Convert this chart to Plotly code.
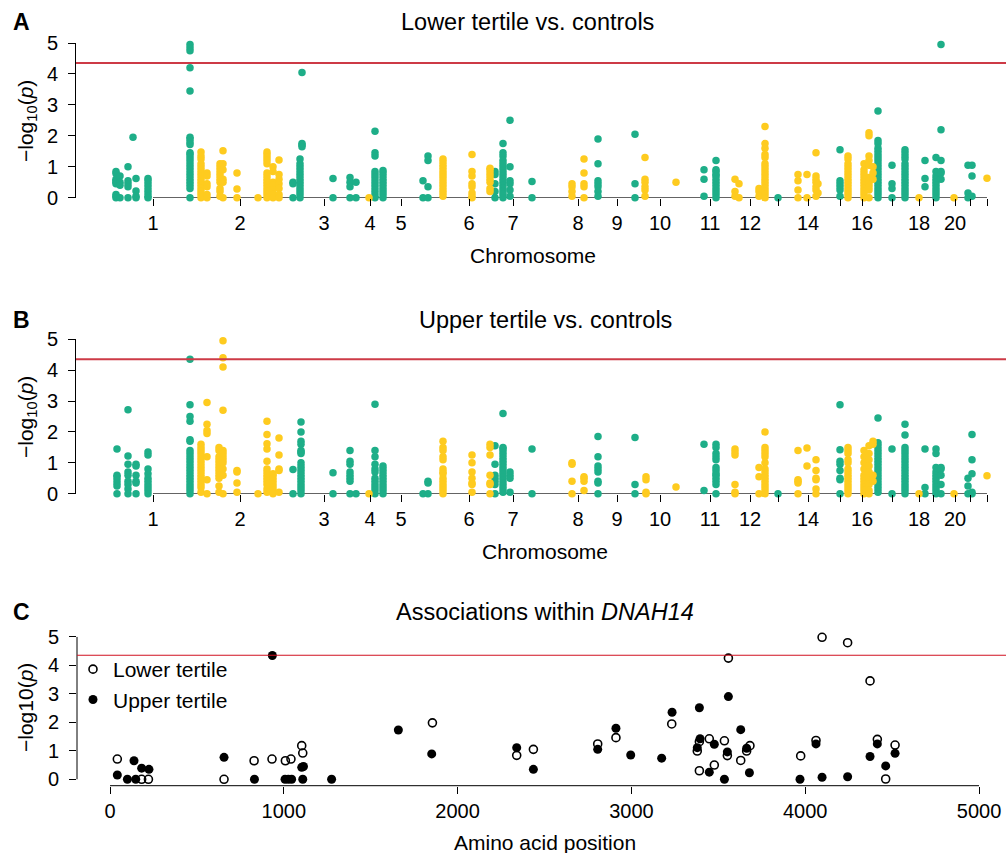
import plotly.graph_objects as go

# ---------------- data ----------------
threshold = 4.35

# genome axis: chromosome tick positions (cumulative index) and labels
chrom_tick_pos = [153, 240, 324, 370, 401, 469, 513, 578, 617, 660, 710, 750,
                  778, 808, 840, 862, 892, 919, 933, 955, 970, 987]
chrom_tick_lab = ["1", "2", "3", "4", "5", "6", "7", "8", "9", "10", "11", "12",
                  "", "14", "", "16", "", "18", "", "20", "", ""]

# Panel A: lower tertile vs controls  (position, colour group, -log10 p values)
a_pos = [116, 120, 128, 133, 136, 148, 190, 201, 207, 220, 223, 237, 258, 267, 273, 279,
         293, 300, 302, 333, 350, 356, 369, 375, 383, 423, 428, 443, 472, 490, 495, 503,
         510, 532, 572, 584, 598, 635, 645, 676, 704, 716, 735, 739, 759, 765, 778, 798,
         807, 816, 818, 840, 848, 864, 869, 873, 878, 892, 905, 919, 925, 936, 941, 954,
         968, 972, 987]
a_grp = ["g", "g", "g", "g", "g", "g", "g", "y", "y", "y", "y", "y", "y", "y", "y", "y",
         "g", "g", "g", "g", "g", "g", "y", "g", "g", "g", "g", "y", "y", "y", "g", "g",
         "g", "g", "y", "y", "g", "g", "y", "y", "g", "g", "y", "y", "y", "y", "g", "y",
         "y", "y", "y", "g", "y", "y", "y", "y", "g", "g", "g", "y", "g", "g", "g", "y",
         "g", "g", "y"]
a_vals = [
    [0.85, 0.78, 0.6, 0.55, 0.5, 0.45, 0.1, 0.05, 0],
    [0.7, 0.5, 0.4, 0.0],
    [1.0, 0.55, 0.45, 0.35, 0.0],
    [1.95],
    [0.62, 0.22, 0.05, 0],
    [0.62, 0.55, 0.45, 0.35, 0.25, 0.15, 0.05, 0],
    [4.95, 4.85, 4.75, 4.2, 3.45, 1.95, 1.9, 1.8, 1.72, 1.45, 1.4, 1.3, 1.2, 1.1, 1.0, 0.9, 0.8, 0.7, 0.6, 0.5, 0.4, 0.3, 0.0],
    [1.48, 1.35, 1.25, 1.1, 1.0, 0.9, 0.8, 0.7, 0.6, 0.5, 0.4, 0.3, 0.2, 0.1, 0.0],
    [0.8, 0.7, 0.45, 0.35, 0.1, 0.0],
    [1.1, 1.0, 0.9, 0.8, 0.7, 0.6, 0.5, 0.3, 0.2, 0.05],
    [1.52, 1.1, 0.9, 0.6, 0.5, 0.0],
    [0.8, 0.28, 0.0],
    [0.0],
    [1.48, 1.4, 1.3, 1.2, 1.1, 0.8, 0.7, 0.6, 0.5, 0.4, 0.3, 0.2, 0.1, 0.0],
    [1.0, 0.85, 0.5, 0.4, 0.25, 0.1, 0.0],
    [1.22, 0.75, 0.6, 0.45, 0.3, 0.1, 0.0],
    [0.5, 0.45, 0.0],
    [1.25, 1.1, 1.0, 0.9, 0.8, 0.7, 0.6, 0.5, 0.4, 0.3, 0.2, 0.1, 0.0],
    [4.05, 1.75, 1.7, 1.65],
    [0.62, 0.0],
    [0.65, 0.5, 0.35, 0.0],
    [0.5, 0.0],
    [0.0],
    [2.15, 1.45, 1.35, 0.85, 0.75, 0.65, 0.55, 0.45, 0.35, 0.25, 0.15, 0.05, 0],
    [0.88, 0.8, 0.7, 0.6, 0.5, 0.4, 0.3, 0.2, 0.1, 0.0],
    [0.55, 0.0],
    [1.35, 1.2, 0.35, 0.0],
    [1.25, 1.15, 1.05, 0.95, 0.85, 0.75, 0.65, 0.55, 0.45, 0.35, 0.25, 0.15, 0.05],
    [1.4, 0.85, 0.7, 0.45, 0.35, 0.15, 0.05, 0],
    [0.95, 0.9, 0.8, 0.7, 0.6, 0.5, 0.3, 0.2],
    [0.85, 0.75, 0.45, 0.2, 0.0],
    [1.75, 1.45, 1.35, 1.2, 1.1, 1.0, 0.9, 0.8, 0.7, 0.6, 0.5, 0.4, 0.3, 0.2, 0.1, 0],
    [2.5, 1.0, 0.55, 0.45, 0.25, 0.05],
    [0.52, 0.0],
    [0.45, 0.35, 0.2, 0.05],
    [1.25, 0.8, 0.45, 0.35, 0.0],
    [1.9, 1.1, 0.55, 0.45, 0.35, 0.2, 0.05],
    [2.05, 0.45, 0.0],
    [1.3, 0.6, 0.5, 0.35, 0.25, 0.05],
    [0.5],
    [0.9, 0.6, 0.05],
    [1.2, 0.9, 0.85, 0.75, 0.7, 0.6, 0.5, 0.4, 0.3, 0.2, 0.1, 0.0],
    [0.6, 0.2, 0.05],
    [0.45, 0.0],
    [0.3, 0.2, 0.05],
    [2.3, 1.75, 1.6, 1.4, 1.3, 1.1, 1.0, 0.9, 0.8, 0.7, 0.6, 0.5, 0.4, 0.3, 0.2, 0.1, 0],
    [0.0],
    [0.75, 0.55, 0.25, 0.0],
    [0.75, 0.0],
    [1.45, 0.7, 0.6, 0.5, 0.35, 0.25, 0.05],
    [0.45, 0.15],
    [1.55, 0.55, 0.45, 0.35, 0.25, 0.05],
    [1.35, 1.25, 1.1, 1.0, 0.9, 0.8, 0.7, 0.6, 0.5, 0.4, 0.3, 0.2, 0.1, 0],
    [1.1, 0.9, 0.8, 0.7, 0.6, 0.5, 0.4, 0.3, 0.2, 0.1, 0.0],
    [2.1, 2.0, 1.35, 1.2, 1.05, 0.65, 0.55, 0.45, 0.35, 0.25, 0.0],
    [1.0, 0.8, 0.6],
    [2.8, 1.85, 1.75, 1.6, 1.5, 1.4, 1.3, 1.2, 1.1, 1.0, 0.9, 0.8, 0.7, 0.6, 0.5, 0.4, 0.3, 0.2, 0.1, 0],
    [1.05, 0.45, 0.3, 0.0],
    [1.55, 1.45, 1.35, 1.25, 1.1, 1.0, 0.9, 0.8, 0.7, 0.6, 0.5, 0.4, 0.3, 0.2, 0.1, 0],
    [0.0],
    [1.2, 0.62, 0.35],
    [1.3, 0.85, 0.7, 0.6, 0.5, 0.4, 0.3, 0.2, 0.1, 0.0],
    [4.95, 2.2, 1.2, 0.85, 0.8, 0.6],
    [0.0],
    [1.05, 0.15, 0.0],
    [1.05, 0.7, 0.05],
    [0.63],
]

# Panel B: upper tertile vs controls
b_pos = [117, 128, 136, 148, 190, 201, 207, 219, 223, 237, 258, 267, 273, 279, 293, 301,
         333, 350, 356, 369, 375, 383, 423, 428, 443, 472, 490, 495, 503, 510, 532, 572,
         584, 598, 635, 646, 676, 704, 716, 735, 759, 765, 778, 798, 807, 816, 840, 848,
         864, 869, 873, 878, 892, 905, 919, 925, 936, 941, 954, 968, 972, 987]
b_grp = ["g", "g", "g", "g", "g", "y", "y", "y", "y", "y", "y", "y", "y", "y", "g", "g",
         "g", "g", "g", "y", "g", "g", "g", "g", "y", "y", "y", "g", "g", "g", "g", "y",
         "y", "g", "g", "y", "y", "g", "g", "y", "y", "y", "g", "y", "y", "y", "g", "y",
         "y", "y", "y", "g", "g", "g", "y", "g", "g", "g", "y", "g", "g", "y"]
b_vals = [
    [1.45, 0.6, 0.55, 0.45, 0.35, 0.25, 0.0],
    [2.72, 1.22, 0.95, 0.7, 0.6, 0.4, 0.3, 0.15, 0.0],
    [0.95, 0.9, 0.6, 0.4, 0.35, 0.0],
    [1.35, 1.25, 0.8, 0.65, 0.5, 0.4, 0.3, 0.2, 0.1, 0],
    [4.35, 2.88, 2.5, 2.35, 1.75, 1.7, 1.4, 1.3, 1.2, 1.1, 1.0, 0.9, 0.8, 0.7, 0.6, 0.5, 0.4, 0.3, 0.2, 0.1, 0.0],
    [1.6, 1.5, 1.4, 1.3, 1.2, 1.1, 1.0, 0.9, 0.8, 0.7, 0.6, 0.5, 0.4, 0.3, 0.2, 0.05],
    [2.95, 2.25, 2.05, 1.95, 1.2, 0.45, 0.0],
    [1.5, 1.4, 1.2, 1.1, 1.0, 0.9, 0.8, 0.7, 0.6, 0.5, 0.25, 0.05],
    [4.95, 4.4, 4.1, 2.7, 1.4, 1.3, 1.2, 1.1, 1.0, 0.8, 0.6, 0.0],
    [0.75, 0.7, 0.35, 0.05],
    [0.0],
    [2.35, 1.92, 1.62, 1.45, 1.05, 0.8, 0.7, 0.6, 0.5, 0.4, 0.3, 0.15, 0.05],
    [0.65, 0.6, 0.5, 0.4, 0.3, 0.2, 0.1, 0.0],
    [1.8, 1.25, 0.8, 0.75, 0.05],
    [0.78, 0.0],
    [2.32, 2.0, 1.7, 1.6, 1.4, 1.35, 1.3, 1.0, 0.9, 0.8, 0.7, 0.6, 0.5, 0.4, 0.3, 0.2, 0.1, 0.0],
    [0.68, 0.0],
    [1.4, 1.05, 0.95, 0.7, 0.6, 0.5, 0.4, 0.0],
    [0.0],
    [0.0],
    [2.9, 1.4, 1.2, 0.95, 0.8, 0.7, 0.5, 0.4, 0.3, 0.2, 0.1, 0.0],
    [0.9, 0.8, 0.7, 0.6, 0.5, 0.4, 0.3, 0.2, 0.1, 0.0],
    [0.0],
    [0.4, 0.35, 0.0],
    [1.7, 1.5, 1.4, 1.2, 1.1, 0.8, 0.7, 0.65, 0.5, 0.4, 0.3, 0.2, 0.1, 0.0],
    [1.25, 1.0, 0.7, 0.5, 0.35, 0.3, 0.05],
    [1.6, 1.5, 1.25, 0.6, 0.35, 0.3, 0.0],
    [1.55, 0.95, 0.6, 0.5, 0.4, 0.3, 0.0],
    [2.6, 1.5, 1.45, 1.35, 1.25, 1.15, 1.05, 0.95, 0.85, 0.75, 0.65, 0.55, 0.45, 0.35, 0.25, 0.15, 0.05],
    [0.7, 0.6, 0.5, 0.05],
    [1.45, 0.0],
    [1.0, 0.95, 0.4, 0.0],
    [0.55, 0.5, 0.4, 0.1],
    [1.85, 1.2, 0.9, 0.8, 0.7, 0.4, 0.35, 0.0],
    [1.82, 0.3, 0.0],
    [0.55, 0.45, 0.05, 0.0],
    [0.22],
    [1.6, 0.1],
    [1.6, 1.5, 1.3, 1.2, 1.1, 0.85, 0.75, 0.65, 0.6, 0.5, 0.4, 0.3, 0.0],
    [1.45, 1.35, 1.25, 0.3, 0.05, 0.0],
    [0.85, 0.55, 0.0],
    [2.0, 1.5, 1.4, 1.3, 1.2, 1.0, 0.8, 0.7, 0.6, 0.5, 0.4, 0.3, 0.2, 0.1, 0.0],
    [0.0],
    [1.4, 0.45, 0.4, 0.35, 0.0],
    [1.48, 0.9],
    [1.1, 0.75, 0.5, 0.45, 0.15, 0.0],
    [2.88, 1.42, 1.05, 0.95, 0.75, 0.5, 0.45, 0.0],
    [1.5, 1.4, 1.3, 1.1, 1.0, 0.8, 0.7, 0.6, 0.5, 0.4, 0.3, 0.2, 0.1, 0],
    [1.4, 1.2, 1.0, 0.8, 0.6, 0.5, 0.4, 0.3, 0.2, 0.1, 0.0],
    [1.55, 1.3, 1.1, 0.9, 0.7, 0.5, 0.3, 0.1, 0.0],
    [1.7, 1.6, 0.6, 0.4],
    [2.45, 1.65, 1.55, 1.45, 1.35, 1.25, 1.15, 1.05, 0.95, 0.85, 0.75, 0.65, 0.55, 0.45, 0.35, 0.25, 0.15, 0.05],
    [1.45, 0.0],
    [2.25, 1.9, 1.5, 1.4, 1.3, 1.2, 1.1, 1.0, 0.9, 0.8, 0.7, 0.6, 0.5, 0.4, 0.3, 0.2, 0.1, 0],
    [0.0],
    [1.45, 0.2, 0.0],
    [1.45, 1.3, 0.85, 0.7, 0.6, 0.5, 0.4, 0.3, 0.2, 0.1, 0.0],
    [0.85, 0.8, 0.6, 0.3, 0.0],
    [0.0],
    [0.5, 0.25, 0.0],
    [1.92, 1.1, 0.65, 0.05, 0.0],
    [0.58],
]

# Panel C: associations within DNAH14 (amino acid position, -log10 p)
c_lower_pos = [42, 182, 221, 656, 829, 932, 1009, 1041, 1103, 1109, 1855, 2340, 2436, 2806,
               2911, 3232, 3379, 3391, 3391, 3448, 3477, 3535, 3558, 3552, 3629, 3663, 3682,
               3974, 4062, 4097, 4244, 4373, 4415, 4463, 4517]
c_lower_val = [0.71, 0, 0, 0, 0.65, 0.71, 0.65, 0.71, 1.18, 0.92, 1.98, 0.84, 1.05, 1.24,
               1.46, 1.94, 0.99, 0.30, 1.32, 1.42, 0.50, 1.35, 4.25, 0.83, 0.66, 0.99, 1.18,
               0.82, 1.36, 4.98, 4.79, 3.45, 1.40, 0.01, 1.20]
c_upper_pos = [42, 100, 138, 148, 182, 224, 656, 831, 934, 1007, 1026, 1045, 1103, 1113, 1109,
               1275, 1659, 1851, 2340, 2436, 2806, 2911, 2996, 3174, 3234, 3379, 3391, 3395,
               3448, 3477, 3535, 3558, 3552, 3629, 3663, 3679, 3970, 4062, 4097, 4244, 4373,
               4415, 4463, 4517]
c_upper_val = [0.15, 0, 0.65, 0, 0.39, 0.35, 0.77, 0, 4.34, 0, 0, 0, 0.42, 0.45, 0, 0, 1.73,
               0.89, 1.11, 0.35, 1.05, 1.79, 0.85, 0.74, 2.35, 1.11, 2.51, 1.42, 0.25, 1.23,
               0, 2.90, 0.96, 1.74, 1.09, 0.23, 0, 1.24, 0.07, 0.09, 0.80, 1.24, 0.47, 0.91]
c_xticks = [0, 1000, 2000, 3000, 4000, 5000]
y_ticks = [0, 1, 2, 3, 4, 5]

# ---------------- styling / layout ----------------
W, H = 1006, 853
GREEN = "#1EAE88"
YELLOW = "#FECB1F"
FONT = "Liberation Sans, Arial, Helvetica, sans-serif"


def px(x):
    return x / W


def py(y):
    return 1 - y / H


def expand(pos, grp, vals, g):
    xs, ys = [], []
    for p, k, v in zip(pos, grp, vals):
        if k == g:
            xs += [p] * len(v)
            ys += v
    return xs, ys


fig = go.Figure()

for (pos, grp, vals, xa, ya) in [(a_pos, a_grp, a_vals, "x", "y"),
                                 (b_pos, b_grp, b_vals, "x2", "y2")]:
    for g, col in [("g", GREEN), ("y", YELLOW)]:
        xs, ys = expand(pos, grp, vals, g)
        fig.add_trace(go.Scatter(x=xs, y=ys, mode="markers", xaxis=xa, yaxis=ya,
                                 marker=dict(color=col, size=7.5, line=dict(width=0)),
                                 cliponaxis=False, showlegend=False, hoverinfo="x+y"))

fig.add_trace(go.Scatter(x=c_lower_pos, y=c_lower_val, mode="markers", xaxis="x3", yaxis="y3",
                         name="Lower tertile", cliponaxis=False,
                         marker=dict(symbol="circle-open", color="black", size=8,
                                     line=dict(width=1.6, color="black"))))
fig.add_trace(go.Scatter(x=c_upper_pos, y=c_upper_val, mode="markers", xaxis="x3", yaxis="y3",
                         name="Upper tertile", cliponaxis=False,
                         marker=dict(symbol="circle", color="black", size=9)))

# labelled and unlabelled chromosome ticks
lab_pos = [p for p, t in zip(chrom_tick_pos, chrom_tick_lab) if t]
lab_txt = [t for t in chrom_tick_lab if t]
unlab_pos = [p for p, t in zip(chrom_tick_pos, chrom_tick_lab) if not t]

tickfont = dict(family=FONT, size=20, color="black")
common_y = dict(range=[0, 5], tickvals=y_ticks, ticks="outside", ticklen=7, tickwidth=1,
                tickcolor="black", showline=True, linecolor="black", linewidth=1,
                showgrid=False, zeroline=False, tickfont=tickfont, ticklabelstandoff=6,
                automargin=False)
genome_x = dict(range=[76, 995], tickvals=lab_pos, ticktext=lab_txt,
                ticks="outside", ticklen=7, tickwidth=1, tickcolor="black", showline=False,
                minor=dict(tickvals=unlab_pos, ticks="outside", ticklen=7, tickwidth=1,
                           tickcolor="black", showgrid=False),
                showgrid=False, zeroline=False, tickfont=tickfont, domain=[px(76), px(995)],
                automargin=False)

fig.update_layout(
    width=W, height=H, autosize=False,
    margin=dict(l=0, r=0, t=0, b=0, pad=0, autoexpand=False),
    paper_bgcolor="white", plot_bgcolor="white",
    font=dict(family=FONT, color="black"),
    xaxis=dict(genome_x, anchor="y"),
    yaxis=dict(common_y, anchor="x", domain=[py(197.7), py(43)]),
    xaxis2=dict(genome_x, anchor="y2"),
    yaxis2=dict(common_y, anchor="x2", domain=[py(493.7), py(339.3)]),
    xaxis3=dict(range=[-190, 5092], tickvals=c_xticks, ticks="outside", ticklen=7, tickwidth=1,
                tickcolor="black", showline=False, showgrid=False, zeroline=False,
                tickfont=tickfont, domain=[px(77), px(995)], anchor="y3", automargin=False),
    yaxis3=dict(range=[-0.2246, 5.0], tickvals=y_ticks, ticks="outside", ticklen=7, tickwidth=1,
                tickcolor="black", showline=False, showgrid=False, zeroline=False,
                tickfont=tickfont, ticklabelstandoff=6, domain=[py(785.7), py(636.7)],
                anchor="x3", automargin=False),
    showlegend=True,
    legend=dict(x=px(73), y=py(649), xanchor="left", yanchor="top",
                font=dict(family=FONT, size=21, color="black"), bgcolor="rgba(0,0,0,0)",
                itemwidth=30, tracegroupgap=0),
)

shapes = []
# genome x-axis lines (from first to last chromosome tick)
for xa, ya in [("x", "y"), ("x2", "y2")]:
    shapes.append(dict(type="line", xref=xa, yref=ya, x0=chrom_tick_pos[0], x1=chrom_tick_pos[-1],
                       y0=0, y1=0, line=dict(color="black", width=1), layer="below"))
    shapes.append(dict(type="line", xref="paper", yref=ya, x0=px(76), x1=1, y0=threshold,
                       y1=threshold, line=dict(color="#CD3A46", width=2)))
# panel C axes and threshold
shapes.append(dict(type="line", xref="x3", yref="y3 domain", x0=c_xticks[0], x1=c_xticks[-1],
                   y0=0, y1=0, line=dict(color="black", width=1)))
shapes.append(dict(type="line", xref="x3 domain", yref="y3", x0=0, x1=0, y0=y_ticks[0],
                   y1=y_ticks[-1], line=dict(color="black", width=1)))
shapes.append(dict(type="line", xref="paper", yref="y3", x0=px(77), x1=1, y0=threshold,
                   y1=threshold, line=dict(color="#D01020", width=1.2)))
fig.update_layout(shapes=shapes)


def ann(text, x, y, size, angle=0, bold=False):
    return dict(text=f"<b>{text}</b>" if bold else text, x=px(x), y=py(y), xref="paper",
                yref="paper", showarrow=False, xanchor="center", yanchor="middle",
                textangle=angle, font=dict(family=FONT, size=size, color="black"))


ylab = "\u2212log<sub>10</sub>(<i>p</i>)"
fig.update_layout(annotations=[
    ann("A", 21, 22, 23, bold=True),
    ann("B", 21, 320, 23, bold=True),
    ann("C", 21, 612, 23, bold=True),
    ann("Lower tertile vs. controls", 527, 22, 23.5),
    ann("Upper tertile vs. controls", 545, 320, 23.5),
    ann("Associations within <i>DNAH14</i>", 545, 612, 23.5),
    ann("Chromosome", 533, 255, 21),
    ann("Chromosome", 545, 551, 21),
    ann("Amino acid position", 545, 842, 21),
    ann(ylab, 27, 121, 21, angle=-90),
    ann(ylab, 27, 417, 21, angle=-90),
    ann("\u2212log10(<i>p</i>)", 25, 708, 21, angle=-90),
])

fig.write_html("out.html", config={"displayModeBar": False},
               post_script="document.body.style.margin='0px';"
                           "document.body.style.overflow='hidden';")
